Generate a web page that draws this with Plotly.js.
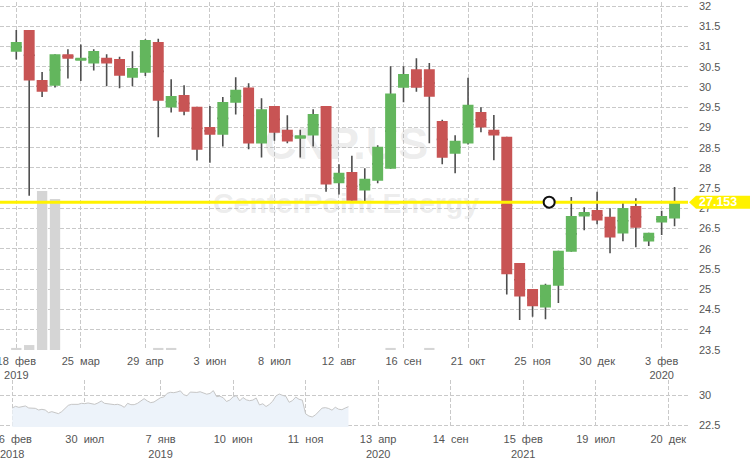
<!DOCTYPE html>
<html><head><meta charset="utf-8">
<script src="https://cdn.plot.ly/plotly-3.0.1.min.js"></script>
<style>html,body{margin:0;padding:0;background:#fff}#chart{width:750px;height:460px}</style>
</head><body><div id="chart"></div>
<script>
// ---- weekly candles (CNP.US) ----
const dates = ['2019-02-18','2019-02-25','2019-03-04','2019-03-11','2019-03-18','2019-03-25','2019-04-01','2019-04-08','2019-04-15','2019-04-22',
 '2019-04-29','2019-05-06','2019-05-13','2019-05-20','2019-05-27','2019-06-03','2019-06-10','2019-06-17','2019-06-24','2019-07-01',
 '2019-07-08','2019-07-15','2019-07-22','2019-07-29','2019-08-05','2019-08-12','2019-08-19','2019-08-26','2019-09-02','2019-09-09',
 '2019-09-16','2019-09-23','2019-09-30','2019-10-07','2019-10-14','2019-10-21','2019-10-28','2019-11-04','2019-11-11','2019-11-18',
 '2019-11-25','2019-12-02','2019-12-09','2019-12-16','2019-12-23','2019-12-30','2020-01-06','2020-01-13','2020-01-20','2020-01-27',
 '2020-02-03','2020-02-10'];
const open  = [30.87,31.41,30.17,30.03,30.81,30.65,30.58,30.72,30.69,30.23, 30.35,31.11,29.49,29.80,29.51,29.01,28.82,29.61,29.99,28.60,
 29.53,28.94,28.72,28.80,29.53,27.62,27.90,27.44,27.68,27.98, 29.98,30.44,30.44,29.16,28.35,28.60,29.38,28.94,28.77,25.65,
 25.01,24.55,25.09,25.93,26.80,26.96,26.79,26.38,27.06,26.18, 26.65,26.75];
const high  = [31.41,31.41,30.37,30.81,30.93,31.05,30.93,30.81,30.75,30.88, 31.18,31.19,30.19,30.04,29.51,29.53,29.75,30.24,30.09,29.72,
 29.53,29.30,28.94,29.45,29.53,28.09,28.30,27.99,28.56,30.51, 30.51,30.71,30.59,29.19,28.81,30.23,29.50,29.31,28.77,25.65,
 25.01,25.14,25.95,27.28,27.03,27.41,27.00,27.16,27.25,26.40, 26.94,27.53];
const low   = [30.68,27.31,29.75,29.99,30.21,30.15,30.41,30.02,29.97,30.02, 30.27,28.76,29.37,29.30,28.18,28.13,28.53,29.32,28.46,28.26,
 28.67,28.61,28.26,28.53,27.41,27.34,27.19,27.17,27.62,27.98, 29.62,29.88,28.61,28.09,27.87,28.58,28.88,28.19,24.87,24.24,
 24.32,24.26,24.66,25.93,26.46,26.61,25.89,26.19,26.04,26.07, 26.34,26.56];
const close = [31.11,30.16,29.88,30.81,30.70,30.72,30.89,30.58,30.28,30.47, 31.16,29.66,29.78,29.39,28.45,28.82,29.63,29.93,28.60,29.45,
 28.87,28.65,28.81,29.33,27.59,27.88,27.19,27.73,28.52,29.84, 30.32,29.98,29.76,28.25,28.67,29.56,29.00,28.80,25.37,24.82,
 24.58,25.11,25.95,26.81,26.91,26.70,26.28,27.01,26.52,26.40, 26.81,27.153];
const volume = [1.3,3.1,100,95,0,0,0,0,0,0, 0,1.3,1.3,0,0,0,0,0,0,0, 0,0,0,0,0,0,0,0,0,1.3, 0,0,1.3,0,0,0,0,0,0,0,
 0,0,0,0,0,0,0,0,0,0, 0,0];

// ---- navigator history (weekly closes before the main window) ----
const histDates = ['2018-02-26','2018-03-05','2018-03-12','2018-03-19','2018-03-26','2018-04-02','2018-04-09','2018-04-16','2018-04-23','2018-04-30',
 '2018-05-07','2018-05-14','2018-05-21','2018-05-28','2018-06-04','2018-06-11','2018-06-18','2018-06-25','2018-07-02','2018-07-09',
 '2018-07-16','2018-07-23','2018-07-30','2018-08-06','2018-08-13','2018-08-20','2018-08-27','2018-09-03','2018-09-10','2018-09-17',
 '2018-09-24','2018-10-01','2018-10-08','2018-10-15','2018-10-22','2018-10-29','2018-11-05','2018-11-12','2018-11-19','2018-11-26',
 '2018-12-03','2018-12-10','2018-12-17','2018-12-24','2018-12-31','2019-01-07','2019-01-14','2019-01-21','2019-01-28','2019-02-04',
 '2019-02-11'];
const histClose = [26.83,27.24,26.99,27.08,27.33,26.83,26.74,26.74,26.33,26.49, 26.33,25.66,25.91,25.74,25.41,25.91,26.66,27.49,27.74,27.66,
 27.74,27.99,27.91,28.08,27.83,27.74,28.08,28.58,27.99,27.83, 27.74,27.66,27.74,27.49,26.99,27.99,27.66,27.66,27.99,28.58,
 29.16,28.58,28.16,28.33,28.99,29.41,29.58,30.49,30.74,30.66, 30.83];

const lastPrice = 27.153;
const markerDate = '2019-12-04';
const watermarkTicker = 'CNP.US';
const watermarkName = 'CenterPoint Energy';

const mainTickVals = ['2019-02-18','2019-03-25','2019-04-29','2019-06-03','2019-07-08','2019-08-12','2019-09-16','2019-10-21','2019-11-25','2019-12-30','2020-02-03'];
const mainTickText = ['18\u00a0\u00a0фев<br>2019','25\u00a0\u00a0мар','29\u00a0\u00a0апр','3\u00a0\u00a0июн','8\u00a0\u00a0июл','12\u00a0\u00a0авг','16\u00a0\u00a0сен','21\u00a0\u00a0окт','25\u00a0\u00a0ноя','30\u00a0\u00a0дек','3\u00a0\u00a0фев<br>2020'];
const navTickVals = ['2018-02-26','2018-07-30','2019-01-07','2019-06-10','2019-11-11','2020-04-13','2020-09-14','2021-02-15','2021-07-19','2021-12-20'];
const navTickText = ['26\u00a0\u00a0фев<br>2018','30\u00a0\u00a0июл','7\u00a0\u00a0янв<br>2019','10\u00a0\u00a0июн','11\u00a0\u00a0ноя','13\u00a0\u00a0апр<br>2020','14\u00a0\u00a0сен','15\u00a0\u00a0фев<br>2021','19\u00a0\u00a0июл','20\u00a0\u00a0дек'];
const navPriceTicks = [22.5, 30];

// ---- styles ----
const GREEN = '#63b65d', RED = '#c85454', WICK = '#4f4f4f', YELLOW = '#fff200';
const GRID = '#c9c9c9', GRIDDASH = '4px,2px', TXT = '#555';
const FONT = '"Liberation Sans", Arial, sans-serif';

const mid = open.map((o, i) => (o + close[i]) / 2);

const traces = [
  { type:'scatter', mode:'text', x:[0.503], y:[0.58], text:[watermarkTicker], xaxis:'x', yaxis:'y',
    textfont:{family:FONT, size:45, color:'rgba(140,140,140,0.17)', weight:'bold'}, hoverinfo:'skip', cliponaxis:false },
  { type:'scatter', mode:'text', x:[0.503], y:[0.415], text:[watermarkName], xaxis:'x', yaxis:'y',
    textfont:{family:FONT, size:28.5, color:'rgba(140,140,140,0.17)', weight:'bold'}, hoverinfo:'skip', cliponaxis:false },
  { type:'bar', x:dates, y:volume, xaxis:'x2', yaxis:'y2',
    marker:{color:'#d5d5d5', line:{width:0}}, hoverinfo:'skip' },
  { type:'candlestick', x:dates, open:mid, high:high, low:low, close:mid, xaxis:'x2', yaxis:'y3',
    increasing:{line:{color:WICK, width:1.6}, fillcolor:WICK},
    decreasing:{line:{color:WICK, width:1.6}, fillcolor:WICK},
    whiskerwidth:0, hoverinfo:'skip' },
  { type:'candlestick', x:dates, open:open, high:high, low:low, close:close, xaxis:'x2', yaxis:'y3',
    increasing:{line:{color:GREEN, width:0}, fillcolor:GREEN},
    decreasing:{line:{color:RED, width:0}, fillcolor:RED},
    whiskerwidth:0, hoverinfo:'skip' },
  { type:'scatter', mode:'lines', x:histDates.concat(dates), y:histClose.concat(close), xaxis:'x3', yaxis:'y4',
    fill:'tozeroy', fillcolor:'#edf3fa', line:{color:'#c6c6c6', width:1}, hoverinfo:'skip' }
];

const gridAxis = { showgrid:true, gridcolor:GRID, griddash:GRIDDASH, gridwidth:1, zeroline:false, showline:false,
  fixedrange:true, ticklabeloverflow:'allow' };

const layout = {
  width:750, height:460,
  margin:{l:0, r:62, t:2, b:33},
  paper_bgcolor:'#fff', plot_bgcolor:'rgba(0,0,0,0)',
  showlegend:false,
  font:{family:FONT, size:11, color:TXT},
  boxgap:0.08, boxgroupgap:0.08, bargap:0.2, boxmode:'overlay',
  xaxis:{domain:[0,1], range:[0,1], visible:false, fixedrange:true},
  yaxis:{domain:[0.1812,1], range:[0,1], visible:false, fixedrange:true},
  xaxis2:Object.assign({}, gridAxis, {overlaying:'x', anchor:'y3', type:'date',
    range:['2019-02-09 04:00','2020-02-17 07:00'], tickmode:'array', tickvals:mainTickVals, ticktext:mainTickText,
    ticks:'outside', ticklen:1, tickcolor:'rgba(0,0,0,0)', tickfont:{size:11, color:TXT}, rangeslider:{visible:false}}),
  yaxis2:{overlaying:'y', anchor:'x2', range:[0,219], visible:false, fixedrange:true},
  yaxis3:Object.assign({}, gridAxis, {overlaying:'y', anchor:'x2', side:'right', range:[23.5,32.1],
    tickmode:'array', tickvals:[23.5,24,24.5,25,25.5,26,26.5,27,27.5,28,28.5,29,29.5,30,30.5,31,31.5,32],
    ticks:'', ticklabelstandoff:10, tickfont:{size:11, color:TXT}}),
  xaxis3:Object.assign({}, gridAxis, {domain:[0,1], anchor:'y4', type:'date', range:['2018-01-31','2022-01-31'],
    tickmode:'array', tickvals:navTickVals, ticktext:navTickText,
    ticks:'outside', ticklen:2, tickcolor:'rgba(0,0,0,0)', tickfont:{size:11, color:TXT}}),
  yaxis4:Object.assign({}, gridAxis, {domain:[0,0.1106], anchor:'x3', side:'right', range:[22.07,33.83],
    tickmode:'array', tickvals:navPriceTicks, ticktext:navPriceTicks.map(String), ticks:'', ticklabelstandoff:10,
    tickfont:{size:11, color:TXT}}),
  shapes:[
    {type:'line', xref:'paper', x0:0, x1:1, yref:'y3', y0:lastPrice, y1:lastPrice, line:{color:YELLOW, width:3}, layer:'above'},
    {type:'circle', xref:'x2', yref:'y3', xsizemode:'pixel', ysizemode:'pixel', xanchor:markerDate, yanchor:lastPrice,
      x0:-5.5, x1:5.5, y0:-5.5, y1:5.5, fillcolor:'#fff', line:{color:'#111', width:2}, layer:'above'},
    {type:'path', xref:'paper', yref:'y3', xsizemode:'pixel', ysizemode:'pixel', xanchor:1, yanchor:lastPrice,
      path:'M 1 0 L 8 6.5 L 62 6.5 L 62 -6.5 L 8 -6.5 Z', fillcolor:YELLOW, line:{width:0}, layer:'above'}
  ],
  annotations:[
    {xref:'paper', x:1, xanchor:'left', xshift:9, yref:'y3', y:lastPrice, yanchor:'middle',
     text:lastPrice.toFixed(3), showarrow:false, font:{family:FONT, color:'#fff', size:12.5, weight:'bold'}}
  ]
};

Plotly.newPlot('chart', traces, layout, {staticPlot:true, displayModeBar:false});
</script>
</body></html>
